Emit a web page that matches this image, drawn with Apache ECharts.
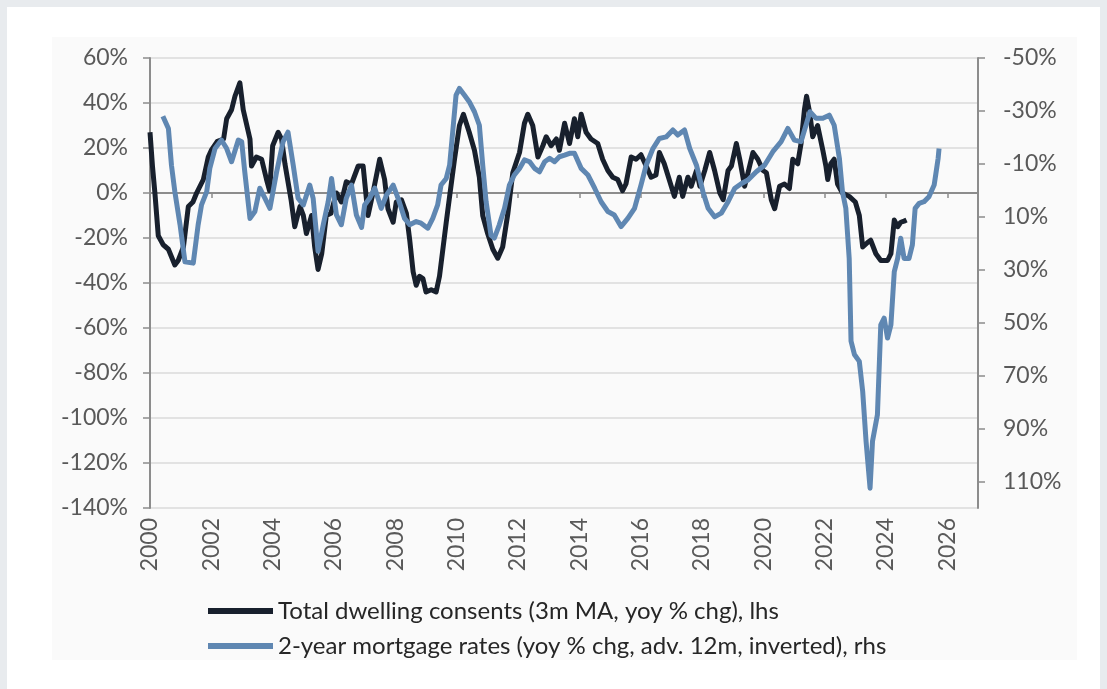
<!DOCTYPE html>
<html>
<head>
<meta charset="utf-8">
<script src="https://cdn.jsdelivr.net/npm/echarts@6.0.0/dist/echarts.min.js"></script>
<style>
  body { margin: 0; background: #e8ebee; }
  .card { position: absolute; left: 7px; top: 7px; width: 1093px; height: 682px; background: #ffffff; }
  .panel { position: absolute; left: 52px; top: 37px; width: 1025px; height: 623px; background: #fafafa; }
  #main { position: absolute; left: 0; top: 0; width: 1107px; height: 689px; }
</style>
</head>
<body>
<div class="card"></div>
<div class="panel"></div>
<div id="main"></div>
<script>
// Total dwelling consents (3m MA, yoy % chg), lhs
const consentYears = [
  2000.0, 2000.08, 2000.16, 2000.27, 2000.43, 2000.6, 2000.81, 2000.92, 2001.09, 2001.25,
  2001.4, 2001.52, 2001.63, 2001.74, 2001.9, 2002.0, 2002.2, 2002.4, 2002.5, 2002.66,
  2002.77, 2002.93, 2003.04, 2003.26, 2003.31, 2003.47, 2003.64, 2003.8, 2003.9, 2004.0,
  2004.18, 2004.29, 2004.4, 2004.6, 2004.72, 2004.89, 2005.0, 2005.1, 2005.27, 2005.37,
  2005.48, 2005.6, 2005.75, 2005.9, 2006.08, 2006.24, 2006.4, 2006.57, 2006.79, 2006.95,
  2007.11, 2007.27, 2007.49, 2007.65, 2007.76, 2007.93, 2008.03, 2008.2, 2008.36, 2008.47,
  2008.58, 2008.68, 2008.79, 2008.9, 2009.0, 2009.17, 2009.33, 2009.44, 2009.55, 2009.66,
  2009.77, 2009.93, 2010.09, 2010.22, 2010.41, 2010.58, 2010.74, 2010.85, 2011.01, 2011.18,
  2011.34, 2011.5, 2011.67, 2011.83, 2012.05, 2012.21, 2012.32, 2012.48, 2012.65, 2012.81,
  2012.92, 2013.08, 2013.25, 2013.35, 2013.52, 2013.68, 2013.84, 2013.95, 2014.06, 2014.22,
  2014.38, 2014.6, 2014.76, 2014.93, 2015.09, 2015.25, 2015.41, 2015.52, 2015.69, 2015.85,
  2016.01, 2016.18, 2016.34, 2016.5, 2016.61, 2016.77, 2016.93, 2017.1, 2017.26, 2017.37,
  2017.54, 2017.65, 2017.82, 2017.93, 2018.09, 2018.25, 2018.41, 2018.58, 2018.69, 2018.85,
  2018.96, 2019.12, 2019.23, 2019.39, 2019.5, 2019.66, 2019.82, 2019.99, 2020.1, 2020.26,
  2020.37, 2020.53, 2020.69, 2020.85, 2020.96, 2021.12, 2021.23, 2021.34, 2021.41, 2021.52,
  2021.61, 2021.77, 2021.94, 2022.04, 2022.1, 2022.2, 2022.31, 2022.42, 2022.58, 2022.8,
  2023.0, 2023.13, 2023.24, 2023.4, 2023.5, 2023.67, 2023.83, 2024.05, 2024.16, 2024.27,
  2024.38, 2024.48, 2024.59, 2024.67
];
const consentValues = [
  27, 12, 0, -19, -23, -25, -32, -30, -24, -6,
  -4, 0, 3, 6, 16, 19, 23, 24, 33, 37,
  43, 49, 37, 24, 12, 16, 15, 6, 1, 21,
  27, 24, 13, -3, -15, -6, -10, -18, -10, -24,
  -34, -27, -10, -9, 0, -4, 5, 4, 12, 12,
  -10, 0, 15, 6, -7, -13, -4, -3, -9, -21,
  -35, -41, -37, -38, -44, -43, -44, -37, -25, -13,
  -1.5, 15, 30, 35, 27, 19, 7, -10, -18, -25,
  -29, -24, -9, 9, 18, 31, 35, 30, 16, 21,
  25, 21, 24, 19, 31, 22, 33, 25, 35, 27,
  24, 22, 15, 10, 7, 6, 1, 4, 16, 15,
  17, 12, 7, 8, 18, 13, 6, -1.5, 7, -1.5,
  7, 3, 10, 3, 10, 18, 10, 0, -3, 10,
  12, 22, 15, 3, 9, 18, 15, 10, 9, -3,
  -7, 3, 4, 2, 15, 13, 22, 37, 43, 35,
  25, 30, 19, 12, 6, 13, 15, 4, 0, -1.5,
  -4, -10, -24, -22, -21, -27, -30, -30, -27, -12,
  -15, -13, -12.5, -12
];

// 2-year mortgage rates (yoy % chg, adv. 12m, inverted), rhs
const mortgageYears = [
  2000.42, 2000.6, 2000.7, 2000.81, 2000.98, 2001.14, 2001.41, 2001.57, 2001.68, 2001.85,
  2001.95, 2002.12, 2002.33, 2002.5, 2002.66, 2002.88, 2002.99, 2003.09, 2003.26, 2003.42,
  2003.58, 2003.75, 2003.91, 2004.13, 2004.34, 2004.5, 2004.67, 2004.83, 2005.0, 2005.21,
  2005.32, 2005.48, 2005.65, 2005.81, 2005.92, 2006.08, 2006.24, 2006.4, 2006.57, 2006.73,
  2006.9, 2007.0, 2007.16, 2007.33, 2007.54, 2007.71, 2007.93, 2008.09, 2008.3, 2008.47,
  2008.68, 2008.84, 2009.06, 2009.22, 2009.38, 2009.49, 2009.66, 2009.77, 2009.87, 2009.98,
  2010.09, 2010.25, 2010.41, 2010.58, 2010.74, 2010.85, 2010.96, 2011.12, 2011.23, 2011.39,
  2011.56, 2011.72, 2011.88, 2012.05, 2012.21, 2012.38, 2012.54, 2012.7, 2012.87, 2013.03,
  2013.19, 2013.35, 2013.52, 2013.68, 2013.84, 2014.06, 2014.28, 2014.5, 2014.71, 2014.93,
  2015.14, 2015.36, 2015.58, 2015.8, 2016.01, 2016.18, 2016.4, 2016.61, 2016.83, 2017.05,
  2017.21, 2017.43, 2017.6, 2017.82, 2018.03, 2018.2, 2018.41, 2018.63, 2018.85, 2019.07,
  2019.29, 2019.5, 2019.77, 2020.04, 2020.31, 2020.58, 2020.8, 2021.01, 2021.23, 2021.39,
  2021.52, 2021.72, 2021.94, 2022.15, 2022.31, 2022.48, 2022.58, 2022.69, 2022.8, 2022.86,
  2022.97, 2023.13, 2023.24, 2023.35, 2023.48, 2023.56, 2023.72, 2023.83, 2023.94, 2024.05,
  2024.16, 2024.27, 2024.38, 2024.48, 2024.59, 2024.75, 2024.86, 2024.95, 2025.08, 2025.24,
  2025.4, 2025.57, 2025.62, 2025.7, 2025.73
];
const mortgageValues = [
  -28, -23.4, -9.5, 0.5, 13, 27, 27.5, 13, 5.5, 0.5,
  -8.3, -15.8, -19, -15.8, -10.8, -19, -18.4, -7, 10.6, 8,
  -0.8, 3, 6.8, -7, -18.4, -22, -9.5, 3, 5.5, -2,
  3, 23, 13, 4.3, -4.5, 9.3, 13, 3, -2, 9.3,
  14, 5.5, 3, -0.8, 6.8, 1.8, -2, 3, 10.6, 13,
  11.8, 12.4, 14.3, 10.6, 5.5, -2, -4.5, -9.5, -22, -36,
  -38.5, -36, -33.5, -29.7, -24.6, -9.5, 4.3, 17, 18, 13,
  6.8, -2, -5.8, -8.3, -11.5, -10.8, -8.3, -7, -10.8, -12.1,
  -10.8, -12.7, -13.3, -14, -14, -8.3, -5.8, -0.8, 4.3, 8,
  9.3, 13.7, 10.6, 6.8, -2, -9.5, -15.8, -19.6, -20.2, -22.8,
  -20.9, -22.8, -15.8, -9.5, 0.5, 6.8, 10, 8.6, 4.3, -0.8,
  -2.6, -3.9, -7, -9.5, -14.6, -18.4, -23.4, -19, -18.4, -24.6,
  -29.7, -27.2, -27.2, -28.4, -24.6, -12.1, 0.5, 6.8, 25.7, 57,
  62, 64.6, 76, 94.8, 112.5, 94.8, 84.8, 50.8, 48.3, 55.8,
  50.8, 30.7, 25.7, 18.1, 25.7, 25.7, 20.6, 6.8, 4.9, 4.3,
  2.4, -2, -5.8, -12.1, -15.8
];

const rightTickValues = [-50, -30, -10, 10, 30, 50, 70, 90, 110];

const consentName = 'Total dwelling consents (3m MA, yoy % chg), lhs';
const mortgageName = '2-year mortgage rates (yoy % chg, adv. 12m, inverted), rhs';

const axisGray = '#8c8c8c';
const labelStyle = { color: '#595959', fontFamily: 'Lato', fontSize: 23 };

const chart = echarts.init(document.getElementById('main'));

const option = {
  animation: false,
  textStyle: { fontFamily: 'Lato' },
  grid: { left: 150, right: 129, top: 58, bottom: 181 },
  legend: {
    orient: 'vertical',
    left: 203,
    top: 594,
    itemWidth: 65,
    itemHeight: 6,
    itemGap: 11,
    icon: 'rect',
    textStyle: { color: '#262626', fontFamily: 'Lato', fontSize: 24 },
    data: [consentName, mortgageName]
  },
  xAxis: [
    {
      type: 'value',
      min: 2000,
      max: 2027,
      interval: 2,
      axisLine: { show: false, onZero: false },
      axisTick: { show: false },
      splitLine: { show: false },
      axisLabel: Object.assign({}, labelStyle, {
        rotate: 90,
        margin: 10,
        showMaxLabel: false,
        formatter: function (v) { return v % 2 === 0 ? String(v) : ''; }
      })
    },
    {
      type: 'value',
      position: 'bottom',
      min: 2000,
      max: 2027,
      interval: 2,
      axisLine: { show: true, onZero: true, onZeroAxisIndex: 0, lineStyle: { color: axisGray, width: 2 } },
      axisTick: { show: true, length: 5, lineStyle: { color: axisGray, width: 1.5 } },
      axisLabel: { show: false },
      splitLine: { show: false }
    }
  ],
  yAxis: [
    {
      type: 'value',
      position: 'left',
      min: -140,
      max: 60,
      interval: 20,
      axisLine: { show: true, onZero: false, lineStyle: { color: axisGray, width: 2 } },
      axisTick: { show: true, length: 7, lineStyle: { color: axisGray, width: 1.5 } },
      splitLine: { show: true, lineStyle: { color: '#dadada', width: 1.5 } },
      axisLabel: Object.assign({}, labelStyle, {
        margin: 22,
        formatter: function (v) { return v + '%'; }
      })
    },
    {
      type: 'value',
      position: 'right',
      inverse: true,
      min: -50,
      max: 120,
      axisLine: { show: true, onZero: false, lineStyle: { color: axisGray, width: 2 } },
      axisTick: { show: true, length: 7, customValues: rightTickValues, lineStyle: { color: axisGray, width: 1.5 } },
      splitLine: { show: false },
      axisLabel: Object.assign({}, labelStyle, {
        margin: 25,
        customValues: rightTickValues,
        formatter: function (v) { return v + '%'; }
      })
    }
  ],
  series: [
    {
      name: consentName,
      type: 'line',
      xAxisIndex: 0,
      yAxisIndex: 0,
      showSymbol: false,
      color: '#18202d',
      lineStyle: { width: 5, color: '#18202d', join: 'round' },
      data: consentYears.map(function (y, i) { return [y, consentValues[i]]; })
    },
    {
      name: mortgageName,
      type: 'line',
      xAxisIndex: 0,
      yAxisIndex: 1,
      showSymbol: false,
      color: '#5f87b2',
      lineStyle: { width: 5, color: '#5f87b2', join: 'round' },
      data: mortgageYears.map(function (y, i) { return [y, mortgageValues[i]]; })
    }
  ]
};

chart.setOption(option);
</script>
</body>
</html>
